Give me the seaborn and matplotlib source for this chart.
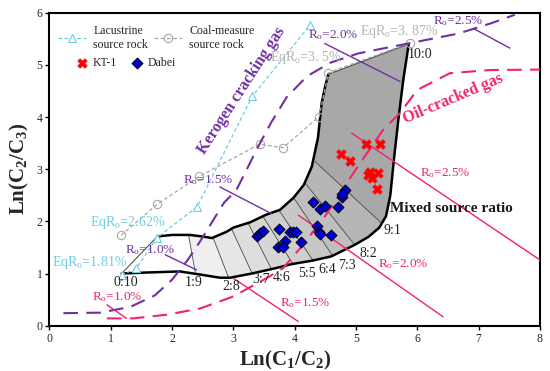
import matplotlib
matplotlib.use("Agg")
import matplotlib.pyplot as plt
from matplotlib.patches import Polygon
import seaborn as sns

# source-rock evolution trends
lac_x = [1.18, 1.42, 1.75, 2.41, 3.31, 4.25]
lac_y = [0.97, 1.10, 1.68, 2.28, 4.40, 5.76]
coal_x = [1.17, 1.76, 2.44, 3.43, 3.81, 4.40, 4.55, 5.88]
coal_y = [1.73, 2.33, 2.86, 3.48, 3.41, 4.01, 4.85, 5.42]

# samples
kt1_x = [5.17, 5.39, 4.76, 4.90, 5.23, 5.36, 5.26, 5.20, 5.34]
kt1_y = [3.48, 3.48, 3.29, 3.16, 2.95, 2.92, 2.83, 2.88, 2.62]
dabei_x = [3.38, 3.43, 3.49, 3.74, 3.93, 3.98, 4.03, 3.85, 4.10, 3.73, 3.81,
           4.30, 4.41, 4.49, 4.71, 4.77, 4.82, 4.78, 4.36, 4.40, 4.41, 4.59]
dabei_y = [1.71, 1.77, 1.82, 1.85, 1.80, 1.80, 1.79, 1.63, 1.60, 1.51, 1.50,
           2.38, 2.23, 2.30, 2.28, 2.47, 2.60, 2.52, 1.92, 1.80, 1.75, 1.74]

# kerogen cracking / oil cracking trend curves
ker_x = [0.23, 0.83, 1.32, 1.72, 2.00, 2.25, 2.45, 2.65, 2.85, 3.05, 3.20, 3.40,
         3.62, 3.87, 4.20, 4.58, 5.04, 5.85, 6.67, 7.21, 7.59]
ker_y = [0.24, 0.25, 0.36, 0.58, 0.88, 1.25, 1.60, 1.98, 2.36, 2.60, 2.95, 3.42,
         3.90, 4.38, 4.78, 5.04, 5.22, 5.41, 5.60, 5.80, 5.96]
oil_x = [0.94, 1.37, 1.91, 2.46, 3.00, 3.54, 3.81, 4.10, 4.49, 5.00, 5.44, 5.72,
         6.00, 6.53, 7.18, 8.00]
oil_y = [0.14, 0.14, 0.21, 0.33, 0.56, 0.91, 1.10, 1.50, 2.09, 3.00, 3.75, 4.08,
         4.52, 4.84, 4.90, 4.91]

# Ro iso-lines (start, end)
ro_text = ["1.0", "1.5", "2.0", "2.5"]
ker_ro_x = [[1.89, 2.40], [2.78, 3.62], [4.49, 5.72], [6.91, 7.51]]
ker_ro_y = [[1.36, 1.07], [2.66, 2.15], [5.41, 4.68], [5.70, 5.32]]
oil_ro_x = [[0.94, 1.26], [3.00, 4.06], [4.06, 6.42], [4.93, 8.00]]
oil_ro_y = [[0.40, 0.14], [0.91, 0.08], [2.12, 0.17], [3.69, 1.26]]

# mixing envelope
low_x = [1.18, 1.60, 2.13, 2.46, 2.78, 2.95, 3.30, 3.68, 3.95, 4.30, 4.60, 4.98,
         5.20, 5.38, 5.49, 5.56, 5.62, 5.69, 5.77, 5.86]
low_y = [1.00, 1.02, 1.04, 0.98, 0.92, 0.92, 1.00, 1.10, 1.18, 1.25, 1.33, 1.55,
         1.70, 1.88, 2.10, 2.50, 3.20, 3.94, 4.70, 5.40]
up_x = [1.76, 2.00, 2.29, 2.50, 2.65, 2.89, 3.00, 3.27, 3.54, 3.76, 3.98, 4.15,
        4.28, 4.38, 4.44, 4.50, 4.55]
up_y = [1.71, 1.74, 1.74, 1.71, 1.68, 1.80, 1.88, 1.98, 2.13, 2.22, 2.45, 2.70,
        3.05, 3.60, 4.26, 4.60, 4.82]
ratios = ["0:10", "1:9", "2:8", "3:7", "4:6", "5:5", "6:4", "7:3", "8:2", "9:1", "10:0"]
div_up_x = [2.27, 2.67, 2.97, 3.24, 3.48, 3.74, 3.98, 4.16, 4.33]
div_up_y = [1.74, 1.69, 1.86, 1.97, 2.10, 2.22, 2.46, 2.75, 3.15]
div_lo_x = [2.38, 2.92, 3.30, 3.62, 3.98, 4.30, 4.62, 4.98, 5.42]
div_lo_y = [1.02, 0.93, 1.02, 1.09, 1.17, 1.25, 1.34, 1.55, 1.96]
seg_grey = ["#ffffff", "#efefef", "#e6e6e6", "#dedede", "#d6d6d6", "#cfcfcf",
            "#c7c7c7", "#bfbfbf", "#b6b6b6", "#a8a8a8"]

PURPLE = "#7030a0"
PINK = "#f2226f"
CYAN = "#6fcde0"
GREY = "#a8a8a8"

sns.set_style("ticks")
plt.rcParams["font.family"] = ["Liberation Serif", "DejaVu Serif"]
plt.rcParams["mathtext.fontset"] = "custom"
plt.rcParams["mathtext.rm"] = "Liberation Serif"
plt.rcParams["mathtext.it"] = "Liberation Serif:italic"
plt.rcParams["mathtext.bf"] = "Liberation Serif:bold"

dpi = 100
fig, ax = plt.subplots(figsize=(550 / dpi, 371 / dpi), dpi=dpi)
fig.subplots_adjust(left=0.0896, right=0.9818, bottom=0.1221, top=0.9658)

# envelope fill, painted dark -> light, clipped to the outline
outline = Polygon(list(zip(low_x + up_x[::-1], low_y + up_y[::-1])), closed=True,
                  facecolor=seg_grey[-1], edgecolor="none", zorder=1)
ax.add_patch(outline)
for k in range(len(div_up_x), 0, -1):
    ux, uy, lx, ly = div_up_x[k - 1], div_up_y[k - 1], div_lo_x[k - 1], div_lo_y[k - 1]
    dx, dy = ux - lx, uy - ly
    uex, uey = ux + 0.6 * dx, uy + 0.6 * dy
    lex, ley = lx - 0.6 * dx, ly - 0.6 * dy
    p = Polygon([(uex, uey), (lex, ley), (lex, -5), (-5, -5), (-5, uey)],
                facecolor=seg_grey[k - 1], edgecolor="none", zorder=1)
    ax.add_patch(p)
    p.set_clip_path(outline)
for ux, uy, lx, ly in zip(div_up_x, div_up_y, div_lo_x, div_lo_y):
    ax.plot([ux, lx], [uy, ly], color="#4a4a4a", lw=0.6, zorder=1.5)
ax.plot(low_x, low_y, color="black", lw=1.8, zorder=2, solid_capstyle="round")
ax.plot(up_x, up_y, color="black", lw=1.8, zorder=2, solid_capstyle="round")
ax.plot([low_x[0], up_x[0]], [low_y[0], up_y[0]], color="#444444", lw=0.7, zorder=2)
ax.plot([up_x[-1], low_x[-1]], [up_y[-1], low_y[-1]], color="#555555", lw=0.9, zorder=2)

# source-rock trends
sns.lineplot(x=lac_x, y=lac_y, sort=False, ax=ax, color=CYAN, lw=0.9, linestyle=(0, (3, 2)),
             marker="^", markersize=6, markerfacecolor="white", markeredgecolor=CYAN,
             markeredgewidth=0.8, label="Lacustrine\nsource rock", zorder=3)
sns.lineplot(x=coal_x, y=coal_y, sort=False, ax=ax, color=GREY, lw=0.9, linestyle=(0, (3, 2)),
             marker="o", markersize=6, markerfacecolor="none", markeredgecolor=GREY,
             markeredgewidth=0.8, label="Coal-measure\nsource rock", zorder=3)

# trend curves
ax.plot(ker_x, ker_y, color=PURPLE, lw=1.5, dashes=(7, 4), zorder=3)
ax.plot(oil_x, oil_y, color=PINK, lw=1.5, dashes=(7, 4), zorder=3)
for xs, ys in zip(ker_ro_x, ker_ro_y):
    ax.plot(xs, ys, color=PURPLE, lw=1.0, zorder=3)
for xs, ys in zip(oil_ro_x, oil_ro_y):
    ax.plot(xs, ys, color=PINK, lw=1.0, zorder=3)

# samples
sns.scatterplot(x=kt1_x, y=kt1_y, ax=ax, marker="X", s=50, color="#ff0000",
                edgecolor="#ff0000", linewidth=0.3, label="KT-1", zorder=5)
sns.scatterplot(x=dabei_x, y=dabei_y, ax=ax, marker="D", s=32, color="#0000cc",
                edgecolor="black", linewidth=0.6, label="Dabei", zorder=5)

# labels
ro_lbl = "R$_\\mathrm{o}$=%s%%"
for t, (x, y) in zip(ro_text, [(1.24, 1.45), (2.18, 2.79), (4.22, 5.57), (6.26, 5.83)]):
    ax.text(x, y, ro_lbl % t, color=PURPLE, fontsize=9.5, va="center", zorder=6)
for t, (x, y) in zip(ro_text, [(0.70, 0.55), (3.76, 0.43), (5.36, 1.18), (6.04, 2.92)]):
    ax.text(x, y, ro_lbl % t, color=PINK, fontsize=9.5, va="center", zorder=6)
eq_lbl = "EqR$_\\mathrm{o}$=%s%%"
ax.text(0.66, 1.98, eq_lbl % "2.62", color=CYAN, fontsize=10, va="center", zorder=6)
ax.text(0.04, 1.21, eq_lbl % "1.81", color=CYAN, fontsize=10, va="center", zorder=6)
ax.text(3.60, 5.15, eq_lbl % "3. 5", color="#b4b4b4", fontsize=10, va="center", zorder=6)
ax.text(5.06, 5.64, eq_lbl % "3. 87", color="#b4b4b4", fontsize=10, va="center", zorder=6)

ratio_pos = [(1.25, 0.83), (2.35, 0.82), (2.96, 0.75), (3.45, 0.88), (3.78, 0.93),
             (4.20, 1.00), (4.53, 1.07), (4.86, 1.16), (5.20, 1.39), (5.59, 1.83), (6.04, 5.19)]
for t, (x, y) in zip(ratios, ratio_pos):
    ax.text(x, y, t, color="#222222", fontsize=10, ha="center", va="center", zorder=6)

ax.text(3.13, 4.50, "Kerogen cracking gas", color=PURPLE, fontsize=11.5, fontweight="bold",
        rotation=57, ha="center", va="center", rotation_mode="anchor", zorder=6)
ax.text(6.58, 4.36, "Oil-cracked gas", color=PINK, fontsize=11.5, fontweight="bold",
        rotation=23, ha="center", va="center", rotation_mode="anchor", zorder=6)
ax.text(5.56, 2.25, "Mixed source ratio", color="#1a1a1a", fontsize=11, fontweight="bold",
        va="center", zorder=6)

# legends
handles, labels = ax.get_legend_handles_labels()
leg1 = ax.legend(handles[:2], labels[:2], ncol=2, frameon=False, fontsize=8.5,
                 loc="upper left", bbox_to_anchor=(52 / 550, 1 - 19 / 371),
                 bbox_transform=fig.transFigure, borderpad=0, handlelength=2.4,
                 handletextpad=0.6, columnspacing=0.5)
ax.add_artist(leg1)
ax.legend(handles[2:], labels[2:], ncol=2, frameon=False, fontsize=8.5,
          loc="upper left", bbox_to_anchor=(70 / 550, 1 - 51 / 371),
          bbox_transform=fig.transFigure, borderpad=0, handlelength=1.0,
          handletextpad=0.4, columnspacing=1.2)

ax.set_xlim(0, 8)
ax.set_ylim(0, 6)
ax.set_xticks(range(9))
ax.set_yticks(range(7))
ax.tick_params(direction="out", length=3, width=1, labelsize=8.5, color="black", pad=2)
for s in ax.spines.values():
    s.set_linewidth(1.5)
    s.set_color("black")
ax.set_xlabel("Ln(C$_\\mathbf{1}$/C$_\\mathbf{2}$)", fontsize=15, fontweight="bold", labelpad=1)
ax.set_ylabel("Ln(C$_\\mathbf{2}$/C$_\\mathbf{3}$)", fontsize=15, fontweight="bold", labelpad=4)
ax.xaxis.set_label_coords(0.48, -0.075)

fig.savefig("out.png", dpi=dpi)
